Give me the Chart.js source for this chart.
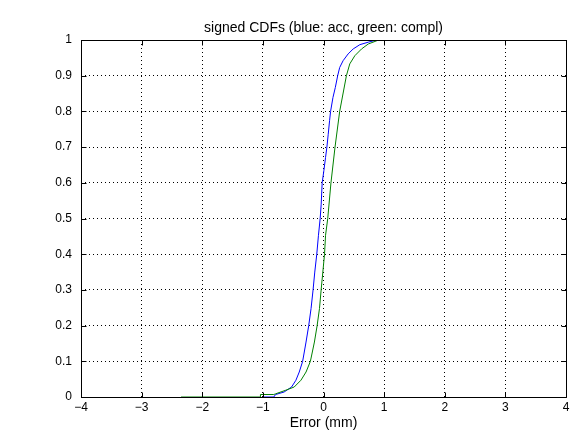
<!DOCTYPE html>
<html>
<head>
<meta charset="utf-8">
<script src="https://cdn.jsdelivr.net/npm/chart.js@4/dist/chart.umd.min.js"></script>
<style>
  html, body { margin: 0; padding: 0; background: #ffffff; }
  #wrap { width: 576px; height: 432px; }
</style>
</head>
<body>
<div id="wrap"><canvas id="c" width="576" height="432"></canvas></div>
<script>
// Blue series: "acc" signed error CDF
const accX = [-1.00, -0.82, -0.79, -0.65, -0.527, -0.455, -0.40, -0.344, -0.288, -0.244, -0.205, -0.172, -0.144, -0.111, -0.083, -0.055, -0.038, -0.022, 0.006, 0.034, 0.056, 0.078, 0.100, 0.117, 0.156, 0.195, 0.234, 0.267, 0.323, 0.406, 0.490, 0.600, 0.740, 0.878, 1.000];
const accY = [0.000, 0.000, 0.007, 0.014, 0.028, 0.047, 0.070, 0.100, 0.154, 0.200, 0.248, 0.300, 0.350, 0.400, 0.453, 0.500, 0.540, 0.600, 0.634, 0.671, 0.700, 0.736, 0.774, 0.800, 0.839, 0.867, 0.900, 0.923, 0.942, 0.961, 0.975, 0.987, 0.994, 1.000, 1.000];
// Green series: "compl" signed error CDF
const complX = [-2.35, -1.04, -1.04, -0.82, -0.789, -0.622, -0.483, -0.372, -0.288, -0.216, -0.150, -0.105, -0.066, -0.039, -0.011, 0.017, 0.034, 0.070, 0.123, 0.190, 0.267, 0.378, 0.433, 0.517, 0.628, 0.740, 0.850, 0.906, 1.700];
const complY = [0.000, 0.000, 0.007, 0.007, 0.009, 0.019, 0.028, 0.047, 0.070, 0.100, 0.154, 0.200, 0.248, 0.300, 0.350, 0.400, 0.453, 0.500, 0.600, 0.700, 0.800, 0.900, 0.933, 0.956, 0.975, 0.989, 0.996, 1.000, 1.000];

const xTickValues = [-4, -3, -2, -1, 0, 1, 2, 3, 4];
const xTickLabels = ["\u22124", "\u22123", "\u22122", "\u22121", "0", "1", "2", "3", "4"];
const yTickValues = [0, 0.1, 0.2, 0.3, 0.4, 0.5, 0.6, 0.7, 0.8, 0.9, 1];
const yTickLabels = ["0", "0.1", "0.2", "0.3", "0.4", "0.5", "0.6", "0.7", "0.8", "0.9", "1"];

const titleText = "signed CDFs (blue: acc, green: compl)";
const xAxisTitle = "Error (mm)";

const FONT = "'Liberation Sans', Arial, Helvetica, sans-serif";

function toPoints(xs, ys) { return xs.map((x, i) => ({ x: x, y: ys[i] })); }

function labelFor(values, labels, v) {
  for (let i = 0; i < values.length; i++) {
    if (Math.abs(values[i] - v) < 1e-9) return labels[i];
  }
  return "";
}

const framePlugin = {
  id: 'matlabFrame',
  afterDatasetsDraw(chart) {
    const ctx = chart.ctx;
    const a = chart.chartArea;
    const xs = chart.scales.x, ys = chart.scales.y;
    ctx.save();
    ctx.strokeStyle = '#000000';
    ctx.lineWidth = 1;
    ctx.setLineDash([]);
    const L = Math.round(a.left) + 0.5, R = Math.round(a.right) + 0.5;
    const T = Math.round(a.top) + 0.5, B = Math.round(a.bottom) + 0.5;
    ctx.beginPath();
    ctx.rect(L, T, R - L, B - T);
    const tl = 5;
    xTickValues.forEach(v => {
      const px = Math.round(xs.getPixelForValue(v)) + 0.5;
      ctx.moveTo(px, B); ctx.lineTo(px, B - tl);
      ctx.moveTo(px, T); ctx.lineTo(px, T + tl);
    });
    yTickValues.forEach(v => {
      const py = Math.round(ys.getPixelForValue(v)) + 0.5;
      ctx.moveTo(L, py); ctx.lineTo(L + tl, py);
      ctx.moveTo(R, py); ctx.lineTo(R - tl, py);
    });
    ctx.stroke();
    ctx.restore();
  }
};

new Chart(document.getElementById('c'), {
  type: 'line',
  data: {
    datasets: [
      {
        label: 'acc',
        data: toPoints(accX, accY),
        borderColor: '#0000ff',
        borderWidth: 1,
        pointRadius: 0,
        tension: 0,
        fill: false,
        order: 2
      },
      {
        label: 'compl',
        data: toPoints(complX, complY),
        borderColor: '#008000',
        borderWidth: 1,
        pointRadius: 0,
        tension: 0,
        fill: false,
        order: 1
      }
    ]
  },
  options: {
    responsive: false,
    animation: false,
    devicePixelRatio: 1,
    layout: { padding: { left: 0, right: 10, top: 0, bottom: 0 } },
    plugins: {
      legend: { display: false },
      tooltip: { enabled: false },
      title: {
        display: true,
        fullSize: false,
        text: titleText,
        color: '#000000',
        font: { family: FONT, size: 14, weight: 'normal', lineHeight: 1.2 },
        padding: { top: 20, bottom: 3.2 }
      }
    },
    scales: {
      x: {
        type: 'linear',
        min: -4, max: 4,
        afterBuildTicks(scale) { scale.ticks = xTickValues.map(v => ({ value: v })); },
        afterFit(scale) { scale.height = 35; },
        ticks: {
          color: '#000000',
          font: { family: FONT, size: 12 },
          padding: 3,
          maxRotation: 0,
          autoSkip: false,
          callback: (v) => labelFor(xTickValues, xTickLabels, v)
        },
        grid: { color: '#000000', lineWidth: 1, drawTicks: false },
        border: { display: false, dash: [1, 3] },
        title: {
          display: true,
          text: xAxisTitle,
          color: '#000000',
          font: { family: FONT, size: 14 },
          padding: { top: 0, bottom: 0 }
        }
      },
      y: {
        type: 'linear',
        min: 0, max: 1,
        afterBuildTicks(scale) { scale.ticks = yTickValues.map(v => ({ value: v })); },
        afterFit(scale) { scale.width = 81; },
        ticks: {
          color: '#000000',
          font: { family: FONT, size: 12 },
          padding: 9,
          autoSkip: false,
          callback: (v) => labelFor(yTickValues, yTickLabels, v)
        },
        grid: { color: '#000000', lineWidth: 1, drawTicks: false },
        border: { display: false, dash: [1, 3] }
      }
    }
  },
  plugins: [framePlugin]
});
</script>
</body>
</html>
